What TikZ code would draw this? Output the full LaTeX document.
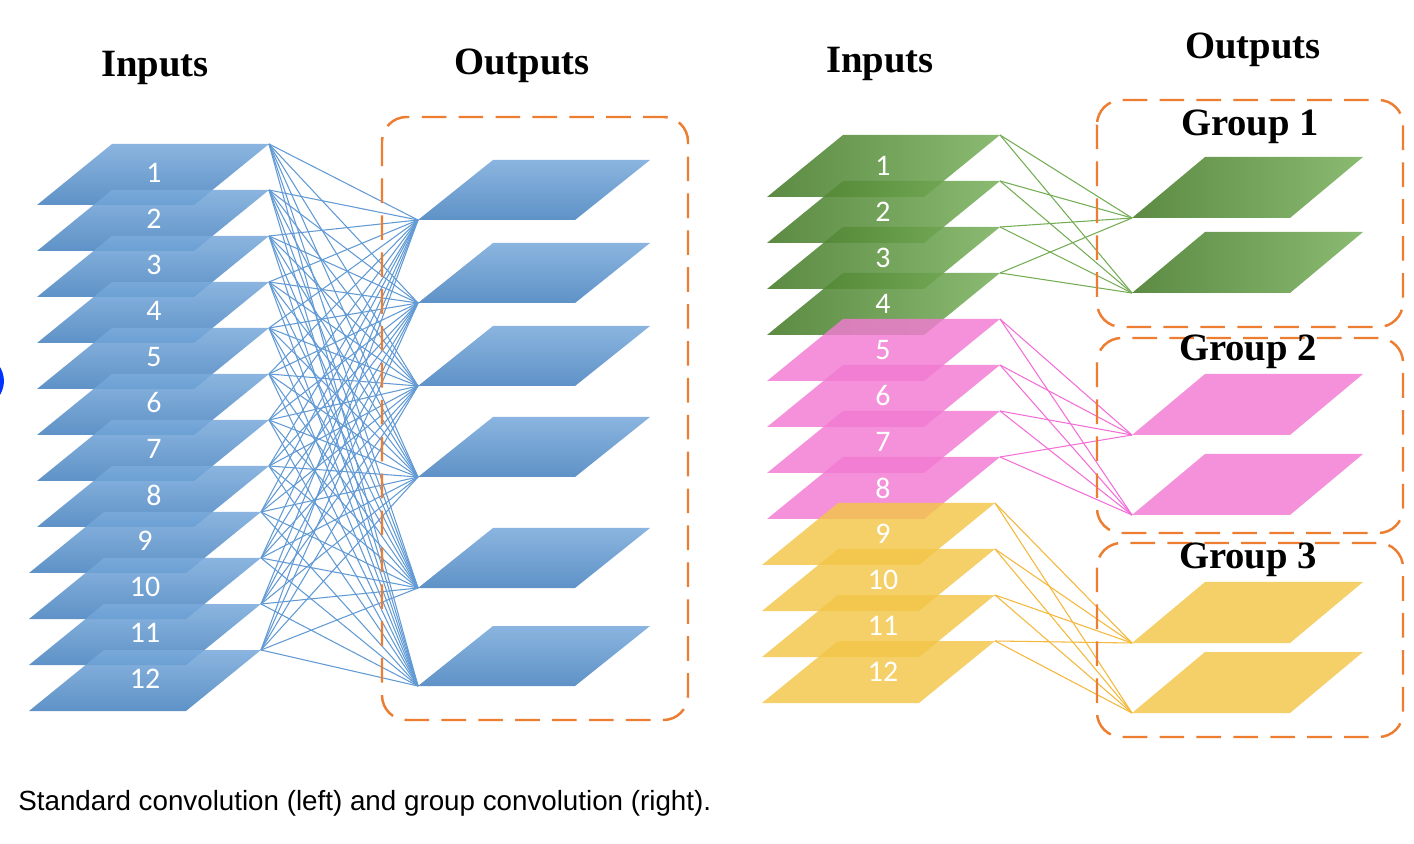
\documentclass[tikz,border=0pt]{standalone}
\usepackage{fontspec}
\setmainfont{Liberation Serif}
\newfontfamily\capfont{Liberation Sans}
\newfontfamily\numfont{Carlito}
\usepackage{tikz}
\usetikzlibrary{positioning,calc}
\definecolor{convblue}{HTML}{4F8FD0}
\definecolor{convgreen}{HTML}{5A9E36}
\definecolor{convpink}{HTML}{F27AD2}
\definecolor{convyellow}{HTML}{F3C648}
\definecolor{boxorange}{HTML}{ED7D31}
\tikzset{
  bplane/.style ={top color=convblue!75!white,bottom color=convblue!92!black,fill opacity=0.88},
  gplane/.style ={left color=convgreen!78!black,right color=convgreen!80!white,fill opacity=0.88},
  pplane/.style ={fill=convpink,fill opacity=0.82},
  yplane/.style ={fill=convyellow,fill opacity=0.82},
  blink/.style  ={draw=convblue!90!white,line width=0.6pt},
  glink/.style  ={draw=convgreen!85!white,line width=0.6pt},
  plink/.style  ={draw=convpink!90!magenta,line width=0.6pt},
  ylink/.style  ={draw=convyellow!80!orange,line width=0.6pt},
  dashbox/.style={draw=boxorange,line width=1.4pt,dash pattern=on 14pt off 7pt,rounded corners=14pt},
  title/.style  ={font=\bfseries\fontsize{22}{25}\selectfont},
  num/.style    ={text=white,font=\numfont\fontsize{17}{20}\selectfont},
}

\begin{document}
\begin{tikzpicture}[x=0.02cm,y=-0.02cm]
  \fill[white] (0,0) rectangle (1414,844);
  \useasboundingbox (0,0) rectangle (1414,844);
  \draw[line width=2.2pt,draw=blue!80!cyan] (-3,366) to[bend left=35] (-3,396);

  \node[title](tinL) at (155,68){Inputs};  \node[title](toutL) at (522,66){Outputs};
  \node[title](tinR) at (880,64){Inputs};  \node[title](toutR) at (1253,50){Outputs};

  \foreach \i in {1,...,12}{
    \coordinate (li\i) at ({269-8*(\i>8)},{144+46*(\i-1)});
    \path[bplane] (li\i) -- ++(-157,0) -- ++(-75,61) -- ++(157,0) -- cycle;}
  \foreach \j/\y in {1/220,2/303,3/386,4/477,5/588,6/686}{\coordinate (lo\j) at (418,\y);}
  \foreach \i in {1,...,12}{\foreach \j in {1,...,6}{\draw[blink](li\i)--(lo\j);}}
  \foreach \j in {1,...,6}{\path[bplane] (lo\j) -- ++(157,0) -- ++(75,-60) -- ++(-157,0) -- cycle;}
  \foreach \i in {1,...,12}{\node[num](lnL\i) at ({154-9*(\i>8)},{173+46*(\i-1)}){\i};}
  \draw[dashbox] (382,117) rectangle (688,720);

  \foreach \i in {1,...,12}{\coordinate (ri\i) at ({1000-5*(\i>8)},{135+46*(\i-1)});}
  \foreach \g/\s in {1/gplane,2/pplane,3/yplane}{\foreach \k in {1,...,4}{
    \pgfmathtruncatemacro\i{4*\g-4+\k}
    \path[\s] (ri\i) -- ++(-157,0) -- ++(-76,62) -- ++(157,0) -- cycle;}}
  \foreach \j/\y in {1/218,2/293,3/435,4/515,5/643,6/713}{\coordinate (ro\j) at (1132,\y);}
  \foreach \g/\s in {1/glink,2/plink,3/ylink}{\foreach \k in {1,...,4}{\foreach \m in {1,2}{
    \pgfmathtruncatemacro\a{4*\g-4+\k}\pgfmathtruncatemacro\b{2*\g-2+\m}
    \draw[\s](ri\a)--(ro\b);}}}
  \foreach \g/\s in {1/gplane,2/pplane,3/yplane}{\foreach \m in {1,2}{
    \pgfmathtruncatemacro\b{2*\g-2+\m}
    \path[\s] (ro\b) -- ++(158,0) -- ++(73,-61) -- ++(-158,0) -- cycle;}}
  \foreach \i in {1,...,12}{\node[num](lnR\i) at (883,{166+46*(\i-1)}){\i};}

  \draw[dashbox] (1097,100) rectangle (1403,327);
  \draw[dashbox] (1097,338) rectangle (1403,533);
  \draw[dashbox] (1097,543) rectangle (1403,737);
  \node[title](grp1) at (1250,127){Group 1};
  \node[title](grp2) at (1248,352){Group 2};
  \node[title](grp3) at (1248,560){Group 3};

  \node[anchor=west,inner sep=0pt,font=\capfont\fontsize{15.8}{18}\selectfont](cap) at (18,803)
    {Standard convolution (left) and group convolution (right).};
\end{tikzpicture}
\end{document}
